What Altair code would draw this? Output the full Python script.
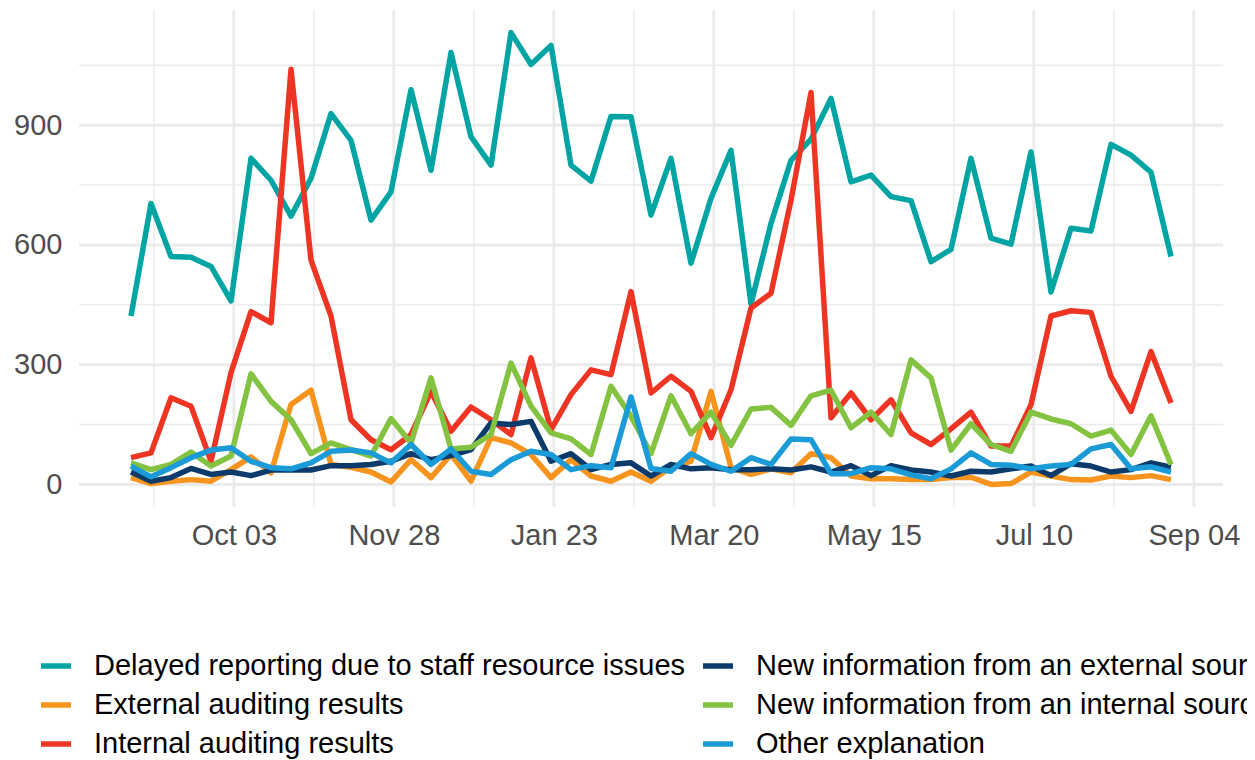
import altair as alt
import pandas as pd

FONT = "Liberation Sans, Arial, Helvetica, sans-serif"

# weekly dates (Saturdays) from 2021-08-28 to 2022-08-27
weeks = pd.date_range("2021-08-28", periods=53, freq="7D").strftime("%Y-%m-%d").tolist()

series_names = [
    "Delayed reporting due to staff resource issues",
    "External auditing results",
    "Internal auditing results",
    "New information from an external source",
    "New information from an internal source",
    "Other explanation",
]
series_colors = ["#00A5A3", "#F7941D", "#EE3524", "#0C3B6B", "#84C241", "#1A9BD8"]

delayed = [422, 704, 571, 569, 546, 460, 817, 762, 672, 767, 929, 862, 662, 733, 989, 787,
           1082, 871, 800, 1132, 1052, 1100, 800, 760, 922, 921, 675, 817, 554, 717, 837, 452,
           654, 812, 865, 967, 758, 775, 721, 711, 558, 589, 817, 617, 602, 833, 482, 642,
           635, 852, 825, 782, 571]
external_audit = [17, 2, 8, 12, 8, 37, 69, 29, 200, 236, 50, 43, 31, 6, 62, 17, 75, 8, 117,
                  104, 75, 17, 62, 21, 8, 31, 8, 44, 58, 233, 42, 25, 39, 29, 77, 67, 21, 14,
                  14, 12, 12, 17, 18, 0, 2, 31, 21, 12, 11, 21, 17, 22, 12]
internal_audit = [67, 79, 217, 196, 58, 280, 433, 405, 1040, 562, 422, 162, 112, 87, 125, 233,
                  133, 194, 162, 125, 317, 137, 225, 287, 275, 483, 229, 271, 233, 117, 237,
                  442, 479, 712, 982, 167, 229, 162, 212, 129, 100, 139, 181, 96, 96, 200, 422,
                  435, 431, 271, 183, 333, 204]
new_external = [31, 8, 17, 40, 25, 31, 22, 36, 36, 36, 47, 47, 50, 58, 77, 62, 72, 87, 154,
                150, 158, 58, 77, 37, 50, 54, 21, 50, 39, 42, 37, 37, 39, 36, 44, 31, 47, 22,
                47, 36, 31, 21, 33, 31, 39, 46, 22, 52, 46, 31, 37, 54, 43]
new_internal = [54, 37, 50, 81, 46, 71, 277, 208, 162, 77, 104, 87, 71, 165, 104, 267, 89, 93,
                125, 304, 196, 129, 114, 75, 246, 171, 77, 222, 127, 181, 98, 189, 193, 148,
                222, 236, 142, 181, 125, 312, 267, 86, 152, 100, 83, 181, 164, 152, 121, 136,
                75, 172, 50]
other = [46, 19, 42, 67, 86, 92, 58, 42, 39, 54, 83, 86, 79, 54, 100, 50, 89, 33, 25, 62, 83,
         75, 37, 47, 42, 219, 40, 33, 77, 50, 33, 67, 50, 114, 112, 27, 27, 42, 39, 24, 14, 39,
         79, 50, 48, 39, 46, 50, 89, 100, 39, 44, 31]

all_values = [delayed, external_audit, internal_audit, new_external, new_internal, other]

x_ticks = ["2021-10-03", "2021-11-28", "2022-01-23", "2022-03-20", "2022-05-15", "2022-07-10", "2022-09-04"]
x_minor = ["2021-09-05", "2021-10-31", "2021-12-26", "2022-02-20", "2022-04-17", "2022-06-12", "2022-08-07"]
y_ticks = [0, 300, 600, 900]
y_minor = [150, 450, 750, 1050]

rows = []
for name, vals in zip(series_names, all_values):
    for d, v in zip(weeks, vals):
        rows.append({"date": d, "value": v, "series": name})
df = pd.DataFrame(rows)

def ms(s):
    return int(pd.Timestamp(s, tz="UTC").value // 10**6)

first, last = pd.Timestamp(weeks[0], tz="UTC"), pd.Timestamp(weeks[-1], tz="UTC")
span = last - first
x_dom = [int((first - span * 0.05).value // 10**6), int((last + span * 0.05).value // 10**6)]
ymax = max(max(v) for v in all_values)
y_dom = [-0.05 * ymax, ymax * 1.05]

x_scale = alt.Scale(type="utc", domain=x_dom, nice=False)
y_scale = alt.Scale(domain=y_dom, nice=False, zero=False)

x_axis = alt.Axis(values=[ms(s) for s in x_ticks], format="%b %d", title=None,
                  grid=False, ticks=False, tickSize=0, domain=False,
                  labelFontSize=29, labelColor="#4D4D4D", labelFont=FONT,
                  labelPadding=14, labelFlush=False, labelOverlap=False)
y_axis = alt.Axis(values=y_ticks, title=None, grid=False, ticks=False, tickSize=0,
                  domain=False, labelFontSize=29, labelColor="#4D4D4D",
                  labelFont=FONT, labelPadding=17)

GRID = "#EBEBEB"

vmin = alt.Chart(pd.DataFrame({"date": x_minor})).mark_rule(color=GRID, strokeWidth=1.5).encode(
    x=alt.X("date:T", scale=x_scale, axis=x_axis))
vmaj = alt.Chart(pd.DataFrame({"date": x_ticks})).mark_rule(color=GRID, strokeWidth=3).encode(
    x=alt.X("date:T", scale=x_scale, axis=x_axis))
hmin = alt.Chart(pd.DataFrame({"value": y_minor})).mark_rule(color=GRID, strokeWidth=1.5).encode(
    y=alt.Y("value:Q", scale=y_scale, axis=y_axis))
hmaj = alt.Chart(pd.DataFrame({"value": y_ticks})).mark_rule(color=GRID, strokeWidth=3).encode(
    y=alt.Y("value:Q", scale=y_scale, axis=y_axis))

lines = alt.Chart(df).mark_line(strokeWidth=5.5, strokeJoin="round").encode(
    x=alt.X("date:T", scale=x_scale, axis=x_axis),
    y=alt.Y("value:Q", scale=y_scale, axis=y_axis),
    color=alt.Color("series:N",
                    scale=alt.Scale(domain=series_names, range=series_colors),
                    legend=alt.Legend(title=None, orient="none", legendX=-41, legendY=638,
                                      columns=2, symbolType="stroke", symbolSize=900,
                                      symbolStrokeWidth=5.5, labelFontSize=29,
                                      labelColor="#000000", labelFont=FONT, labelLimit=3000,
                                      labelOffset=20, columnPadding=6, rowPadding=6,
                                      padding=0)),
    detail="series:N",
)

chart = alt.layer(vmin, vmaj, hmin, hmaj, lines).properties(
    width=1144, height=497,
    padding={"left": 71, "top": 2, "right": 24, "bottom": 253},
    autosize=alt.AutoSizeParams(type="none"),
    background="white",
).configure_view(stroke=None)

chart.save("out.html", embed_options={"renderer": "svg", "actions": False})
